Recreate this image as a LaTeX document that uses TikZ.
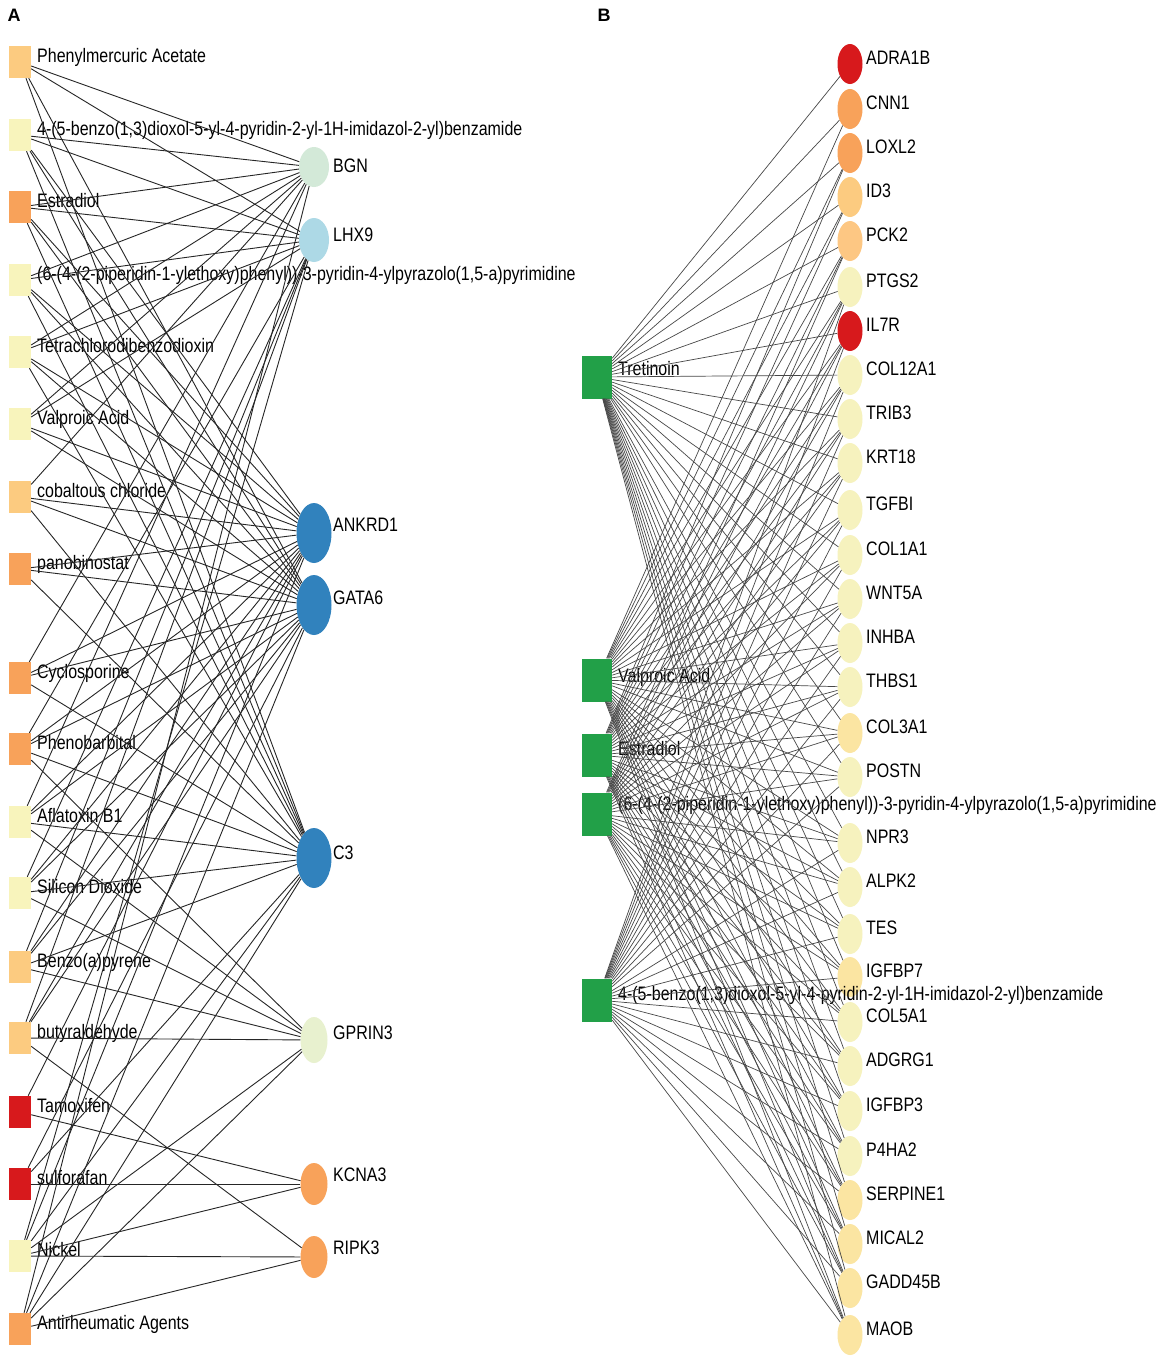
\documentclass[tikz,border=0pt]{standalone}
\usepackage{fontspec}
\setmainfont{Liberation Sans}[FakeStretch=0.82]
\newfontfamily\panelfont{Liberation Sans}
\usetikzlibrary{shapes.geometric}
\definecolor{lorange}{HTML}{FCCB80}
\definecolor{dorange}{HTML}{F8A25A}
\definecolor{lyellow}{HTML}{F8F4BC}
\definecolor{dred}{HTML}{D7191C}
\definecolor{pgreen}{HTML}{D3E9D8}
\definecolor{lblue}{HTML}{ADD9E6}
\definecolor{mblue}{HTML}{3182BD}
\definecolor{pyg}{HTML}{E8F1CF}
\definecolor{dgreen}{HTML}{22A048}
\definecolor{pale}{HTML}{F6F2BE}
\definecolor{paleo}{HTML}{FBE5A2}
\definecolor{lo2}{HTML}{FDC783}
\begin{document}
\begin{tikzpicture}[x=1pt,y=-1pt,
  sqA/.style={rectangle,draw=none,minimum width=22pt,minimum height=32pt,inner sep=0pt},
  sqB/.style={rectangle,draw=none,fill=dgreen,minimum width=30pt,minimum height=43pt,inner sep=0pt},
  gn/.style={ellipse,draw=none,inner sep=0pt},
  lbl/.style={anchor=base west,inner sep=0pt,font=\fontsize{19.5}{20}\selectfont},
  edgeA/.style={draw=black!85,line width=0.9pt},
  edgeB/.style={draw=black!72,line width=0.7pt},
  panel/.style={inner sep=0pt,font=\panelfont\bfseries\fontsize{18}{18}\selectfont}]
\useasboundingbox[fill=white] (0,0) rectangle (1170,1361);
\node[panel] (pA) at (14,15) {A};
\node[panel] (pB) at (604,15) {B};
% ---------- panel A: drugs ----------
\foreach \i/\y/\c/\t in {
 1/62/lorange/{Phenylmercuric Acetate},
 2/135/lyellow/{4-(5-benzo(1,3)dioxol-5-yl-4-pyridin-2-yl-1H-imidazol-2-yl)benzamide},
 3/207/dorange/{Estradiol},
 4/280/lyellow/{(6-(4-(2-piperidin-1-ylethoxy)phenyl))-3-pyridin-4-ylpyrazolo(1,5-a)pyrimidine},
 5/352/lyellow/{Tetrachlorodibenzodioxin},
 6/424/lyellow/{Valproic Acid},
 7/497/lorange/{cobaltous chloride},
 8/569/dorange/{panobinostat},
 9/678/dorange/{Cyclosporine},
 10/749/dorange/{Phenobarbital},
 11/822/lyellow/{Aflatoxin B1},
 12/893/lyellow/{Silicon Dioxide},
 13/967/lorange/{Benzo(a)pyrene},
 14/1038/lorange/{butyraldehyde},
 15/1112/dred/{Tamoxifen},
 16/1184/dred/{sulforafan},
 17/1256/lyellow/{Nickel},
 18/1329/dorange/{Antirheumatic Agents}}{
  \node[sqA,fill=\c] (a\i) at (20,\y) {};
  \node[lbl] (la\i) at (37,\y) {\t};
}
% ---------- panel A: genes ----------
\foreach \n/\y/\w/\h/\c/\t/\ly in {
 bgn/167/30/40/pgreen/BGN/172,
 lhx/240/30/44/lblue/LHX9/241,
 ank/533/35/60/mblue/ANKRD1/531,
 gata/605/35/60/mblue/GATA6/604,
 c3/858/35/60/mblue/C3/859,
 gpr/1040/27/46/pyg/GPRIN3/1039,
 kcn/1184/27/42/dorange/KCNA3/1181,
 rip/1257/27/42/dorange/RIPK3/1254}{
  \node[gn,fill=\c,minimum width=\w pt,minimum height=\h pt] (\n) at (314,\y) {};
  \node[lbl] (l\n) at (333,\ly) {\t};
}
\foreach \d/\g in {
 1/bgn,1/lhx,1/gata,1/c3,
 2/bgn,2/lhx,2/ank,2/gata,2/c3,
 3/bgn,3/lhx,3/ank,3/gata,3/c3,
 4/bgn,4/lhx,4/ank,4/gata,4/c3,
 5/bgn,5/lhx,5/ank,5/gata,5/c3,
 6/bgn,6/lhx,6/ank,6/gata,
 7/bgn,7/ank,7/gata,7/c3,
 8/ank,8/gata,8/c3,
 9/bgn,9/ank,9/gata,9/c3,
 10/lhx,10/ank,10/gata,10/c3,10/gpr,
 11/bgn,11/ank,11/gata,11/c3,11/gpr,
 12/lhx,12/ank,12/gata,12/c3,12/gpr,
 13/lhx,13/ank,13/gata,13/c3,13/gpr,
 14/lhx,14/ank,14/gata,14/gpr,14/rip,
 15/ank,15/kcn,
 16/gata,16/c3,16/kcn,
 17/lhx,17/ank,17/c3,17/gpr,17/kcn,17/rip,
 18/bgn,18/gata,18/c3,18/gpr,18/rip}{
  \draw[edgeA] (a\d) -- (\g);
}
% ---------- panel B: genes ----------
\foreach \i/\y/\c/\t in {
 1/64/dred/ADRA1B, 2/109/dorange/CNN1, 3/153/dorange/LOXL2, 4/197/lorange/ID3,
 5/241/lo2/PCK2, 6/287/pale/PTGS2, 7/331/dred/IL7R, 8/375/pale/COL12A1,
 9/419/pale/TRIB3, 10/463/pale/KRT18, 11/510/pale/TGFBI, 12/555/pale/COL1A1,
 13/599/pale/WNT5A, 14/643/pale/INHBA, 15/687/pale/THBS1, 16/733/paleo/COL3A1,
 17/777/pale/POSTN, 18/843/pale/NPR3, 19/887/pale/ALPK2, 20/934/pale/TES,
 21/977/paleo/IGFBP7, 22/1022/pale/COL5A1, 23/1066/pale/ADGRG1, 24/1111/pale/IGFBP3,
 25/1156/pale/P4HA2, 26/1200/paleo/SERPINE1, 27/1244/paleo/MICAL2, 28/1288/paleo/GADD45B,
 29/1335/paleo/MAOB}{
  \node[gn,fill=\c,minimum width=25pt,minimum height=40pt] (b\i) at (850,\y) {};
  \node[lbl] (lb\i) at (866,\y) {\t};
}
% ---------- panel B: drugs ----------
\foreach \n/\y/\ly/\t in {
 tret/377/375/{Tretinoin},
 valp/680/682/{Valproic Acid},
 estr/755/755/{Estradiol},
 pipe/814/810/{(6-(4-(2-piperidin-1-ylethoxy)phenyl))-3-pyridin-4-ylpyrazolo(1,5-a)pyrimidine},
 benz/1000/1000/{4-(5-benzo(1,3)dioxol-5-yl-4-pyridin-2-yl-1H-imidazol-2-yl)benzamide}}{
  \node[sqB] (\n) at (597,\y) {};
  \node[lbl] (l\n) at (618,\ly) {\t};
}
\foreach \i in {1,...,29}{\draw[edgeB] (tret) -- (b\i);}
\foreach \i in {2,...,29}{\draw[edgeB] (valp) -- (b\i);}
\foreach \i in {3,...,29}{\draw[edgeB] (estr) -- (b\i);}
\foreach \i in {5,...,29}{\draw[edgeB] (pipe) -- (b\i);}
\foreach \i in {6,...,29}{\draw[edgeB] (benz) -- (b\i);}
\end{tikzpicture}
\end{document}
